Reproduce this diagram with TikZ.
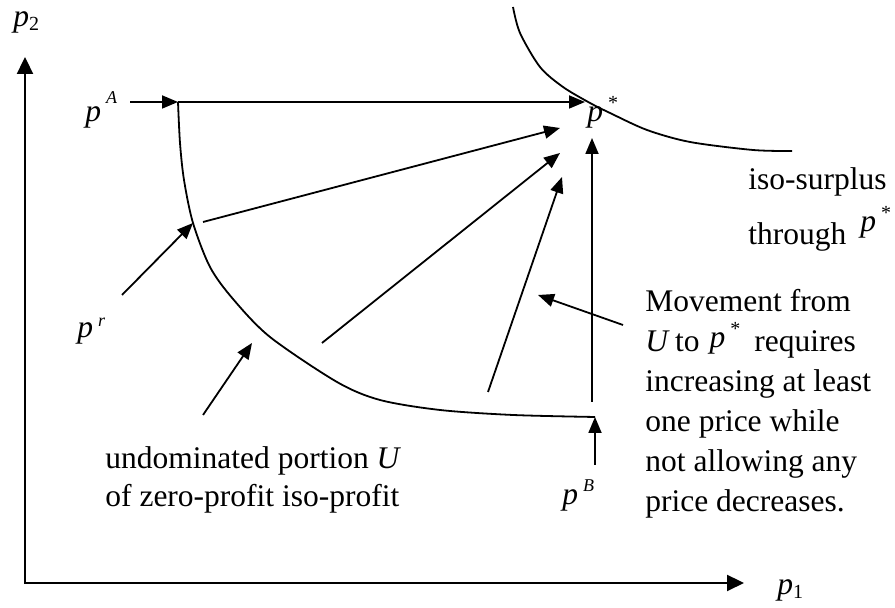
\documentclass[tikz,border=0pt]{standalone}
\usepackage{fontspec}
\setmainfont{Liberation Serif}
\usetikzlibrary{arrows.meta}

\newcommand{\supfnt}{\fontsize{9}{9}\selectfont}
\newcommand{\psup}[2][8pt]{\textit{p}\hspace{2.5pt}\raisebox{#1}{\supfnt\textit{#2}}}
\newcommand{\psub}[1]{\textit{p}\raisebox{-2pt}{\fontsize{10}{10}\selectfont #1}}
\newcommand{\pinl}[1]{\raisebox{#1}{\textit{p}}\hspace{2.5pt}\raisebox{\dimexpr#1+6pt\relax}{\fontsize{10}{10}\selectfont *}}

\begin{document}
\begin{tikzpicture}[
    x=0.5pt, y=0.5pt,
    every node/.style={font=\fontsize{15.75}{20}\selectfont, inner sep=0pt},
    ax/.style={line width=1.1pt},
    crv/.style={line width=0.9pt},
    arr/.style={-{Triangle[length=8pt,width=6.5pt]}, line width=0.9pt},
    lbl/.style={anchor=base west},
    note/.style={anchor=north west, align=left},
]
\useasboundingbox (0,0) rectangle (895,608);

% ====== AXES ======
\coordinate (org)  at (25,25);
\coordinate (ytip) at (25,551);
\coordinate (xtip) at (744,25);
\draw[ax, {Triangle[length=8.5pt,width=8pt]}-{Triangle[length=8.5pt,width=8pt]}]
    (ytip) -- (org) -- (xtip);
\node[lbl] (p2) at (13,581) {\psub{2}};
\node[lbl] (p1) at (777,13)  {\psub{1}};

% ====== CURVES ======
% undominated portion U of the zero-profit iso-profit
\draw[crv] plot[smooth, tension=0.5] coordinates {(178,506) (180,465) (184,428)
    (193,385) (210,341) (233,309) (270,271) (337,226) (380,208) (440,198)
    (513,193) (595,191)};
% iso-surplus through p*
\draw[crv] plot[smooth, tension=0.5] coordinates {(513,601) (520,575) (540,541)
    (563,521) (590,505) (610,495) (647,478) (690,466) (753,458) (792,457)};

% ====== POINTS ======
\coordinate (pA)    at (178,506);
\coordinate (pstar) at (585,506);
\coordinate (pr)    at (193,385);
\coordinate (pB)    at (595,191);

\node[lbl] (lA)    at (85,486)  {\psup[9pt]{A}};
\node[lbl] (lr)    at (77,270)  {\psup[5.5pt]{r}};
\node[lbl] (lB)    at (562,103) {\psup[6.5pt]{B}};
\node[lbl] (lstar) at (587,486) {\pinl{0pt}};

% ====== ARROWS ======
\coordinate (tA) at (130,506);
\coordinate (tr) at (122,313);
\coordinate (tB) at (595,143);
\coordinate (t1) at (203,386);  \coordinate (h1) at (560,480);
\coordinate (t2) at (322,265);  \coordinate (h2) at (560,455);
\coordinate (t3) at (488,216);  \coordinate (h3) at (562,431);
\coordinate (t4) at (592,206);  \coordinate (h4) at (592,470);
\coordinate (tU) at (203,193);  \coordinate (hU) at (252,265);
\coordinate (tM) at (623,283);  \coordinate (hM) at (538,313);

\foreach \a/\b in {tA/pA, pA/pstar, tr/pr, tB/pB,
    t1/h1, t2/h2, t3/h3, t4/h4, tU/hU, tM/hM}
    \draw[arr] (\a) -- (\b);

% ====== TEXT ======
\node[lbl] (iso) at (748,418) {iso-surplus};
\node[lbl] (thr) at (748,363) {through\hspace{7pt}\pinl{6.5pt}};

\node[note] (move) at (645,319)
    {Movement from\\
     \textit{U}\,to\hspace{5pt}\pinl{2pt}\hspace{7pt}requires\\
     increasing at least\\
     one price while\\
     not allowing any\\
     price decreases.};

\node[note, font=\fontsize{15.75}{19}\selectfont] (undom) at (105,162)
    {undominated portion \textit{U}\\
     of zero-profit iso-profit};

\end{tikzpicture}
\end{document}
